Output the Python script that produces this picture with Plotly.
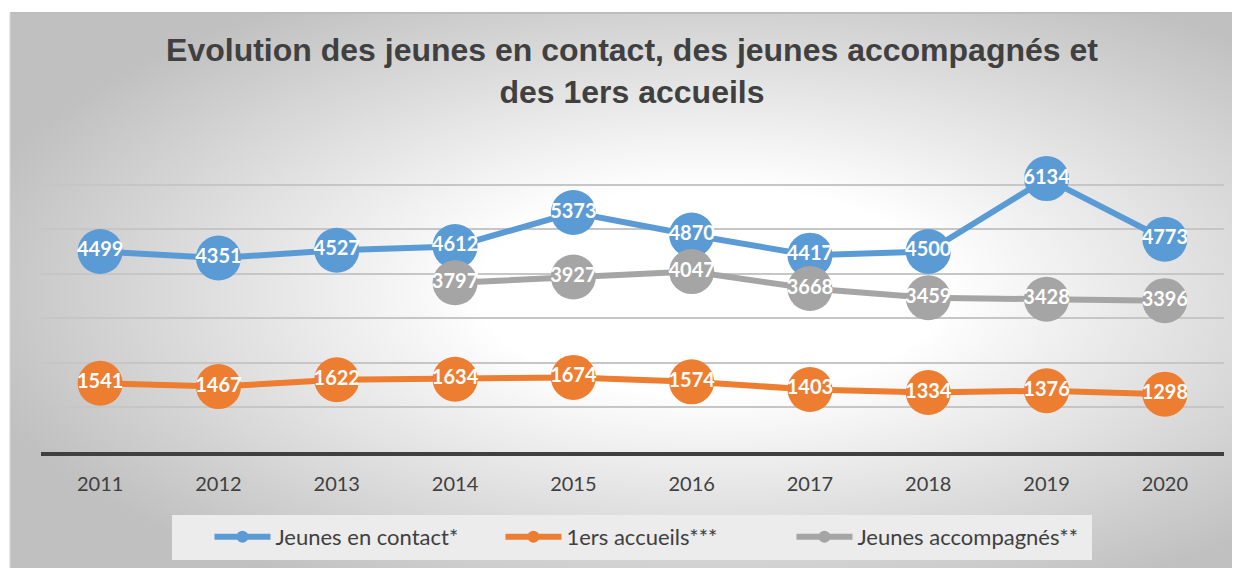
import base64
import plotly.graph_objects as go

# the page places the figure 8px from the top-left corner, so the figure
# covers the visible window from (8, 8) on
OFF = 8
W, H = 1240 - OFF, 568 - OFF

YEARS = ["2011", "2012", "2013", "2014", "2015", "2016", "2017", "2018", "2019", "2020"]
CONTACT = [4499, 4351, 4527, 4612, 5373, 4870, 4417, 4500, 6134, 4773]
ACCUEILS = [1541, 1467, 1622, 1634, 1674, 1574, 1403, 1334, 1376, 1298]
ACCOMP_YEARS = ["2014", "2015", "2016", "2017", "2018", "2019", "2020"]
ACCOMP = [3797, 3927, 4047, 3668, 3459, 3428, 3396]

NAMES = ["Jeunes en contact*", "1ers accueils***", "Jeunes accompagnés**"]
COLORS = ["#5B9BD5", "#ED7D31", "#A5A5A5"]

TITLE = "Evolution des jeunes en contact, des jeunes accompagnés et<br>des 1ers accueils"

# plot area in screen pixels
L, R, T, B = 41, 1224, 140, 452
PW, PH = R - L, B - T

def px(x):
    return (x - L) / PW

def py(y):
    return (B - y) / PH

# radial gradient background for the chart frame
svg = """<svg xmlns='http://www.w3.org/2000/svg' width='1230' height='555' viewBox='0 0 100 100' preserveAspectRatio='none'>
<defs><radialGradient id='g' cx='57%' cy='50%' r='62%'>
<stop offset='0%' stop-color='#ffffff'/><stop offset='30%' stop-color='#ffffff'/>
<stop offset='100%' stop-color='#c0c0c0'/></radialGradient></defs>
<rect x='0' y='0' width='100' height='100' fill='url(#g)'/></svg>"""
bg_src = "data:image/svg+xml;base64," + base64.b64encode(svg.encode()).decode()

fig = go.Figure()

series = [
    (YEARS, CONTACT, NAMES[0], COLORS[0]),
    (YEARS, ACCUEILS, NAMES[1], COLORS[1]),
    (ACCOMP_YEARS, ACCOMP, NAMES[2], COLORS[2]),
]

for xs, ys, name, col in series:
    fig.add_trace(go.Scatter(
        x=xs, y=ys, mode="lines+markers", name=name,
        line=dict(color=col, width=6),
        marker=dict(color=col, size=45),
        showlegend=False, hoverinfo="x+y+name",
    ))

for xs, ys, name, col in series:
    fig.add_trace(go.Scatter(
        x=xs, y=ys, mode="text", text=[str(v) for v in ys],
        textposition="middle center",
        textfont=dict(family="Lato", size=20, color="white", weight="bold"),
        showlegend=False, hoverinfo="skip",
    ))

# legend entries
for xs, ys, name, col in series:
    fig.add_trace(go.Scatter(
        x=[None], y=[None], mode="lines+markers", name=name,
        line=dict(color=col, width=6),
        marker=dict(color=col, size=12),
    ))

fig.update_layout(
    width=W, height=H,
    paper_bgcolor="white",
    plot_bgcolor="rgba(0,0,0,0)",
    margin=dict(l=L - OFF, r=1240 - R, t=T - OFF, b=568 - B, autoexpand=False),
    title=dict(
        text=TITLE, x=(632 - OFF) / W, xanchor="center", y=1 - 53 / H, yanchor="middle",
        font=dict(family="Liberation Sans", size=32, color="#404040", weight="bold"),
    ),
    xaxis=dict(
        type="category", categoryorder="array", categoryarray=YEARS,
        range=[-0.5, 9.5], showgrid=False, zeroline=False,
        showline=True, linecolor="#404040", linewidth=4,
        ticks="", tickfont=dict(family="Lato", size=20, color="#404040"),
        ticklabelstandoff=11,
    ),
    yaxis=dict(
        range=[0, 7000], dtick=1000, showticklabels=False,
        showgrid=True, gridcolor="#c6c6c6", gridwidth=2, zeroline=False,
    ),
    legend=dict(
        orientation="h", x=(638 - OFF) / W, xanchor="center",
        yref="container", y=1 - (537 - OFF) / H, yanchor="middle",
        bgcolor="rgba(0,0,0,0)", font=dict(family="Lato", size=22, color="#404040"),
        itemwidth=56, entrywidth=220, entrywidthmode="pixels",
    ),
    images=[dict(
        source=bg_src, xref="paper", yref="paper",
        x=px(10), y=py(13), sizex=(1240 - 10) / PW, sizey=(568 - 13) / PH,
        xanchor="left", yanchor="top", sizing="stretch", layer="below",
    )],
    shapes=[
        dict(type="rect", xref="paper", yref="paper",
             x0=px(172), x1=px(1092), y0=py(515), y1=py(560),
             fillcolor="#ececec", line=dict(width=0), layer="below"),
        dict(type="line", xref="paper", yref="paper",
             x0=px(10), x1=px(1240), y0=py(13), y1=py(13),
             line=dict(color="#bdbdbd", width=2)),
        dict(type="line", xref="paper", yref="paper",
             x0=px(10), x1=px(10), y0=py(13), y1=py(568),
             line=dict(color="#d6d6d6", width=1)),
    ],
)

fig.write_html("out.html")
